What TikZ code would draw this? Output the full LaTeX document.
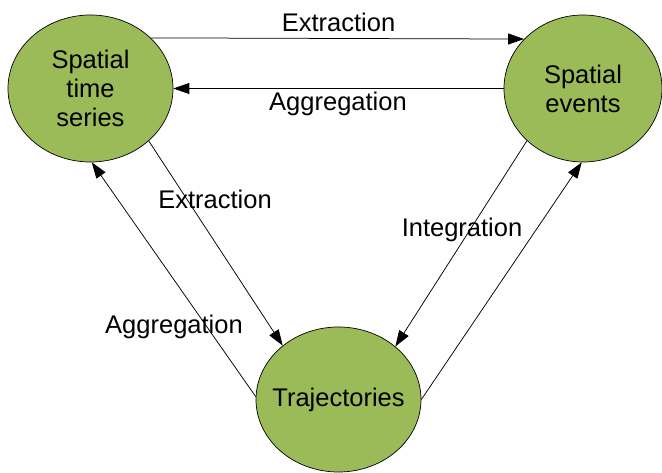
\documentclass[tikz,border=0pt]{standalone}
\usepackage{fontspec}
\setmainfont{Liberation Sans}
\usetikzlibrary{shapes.geometric,arrows.meta}
\definecolor{blobgreen}{RGB}{155,187,89}
\tikzset{
  blob/.style={ellipse, draw=black, line width=0.7pt, fill=blobgreen, inner sep=0pt,
    align=center, font=\fontsize{25.5}{29}\selectfont},
  arr/.style={draw=black, line width=0.75pt, -{Triangle[length=16pt,width=11pt]}},
  lbl/.style={anchor=base, inner sep=0pt, font=\fontsize{25.5}{29}\selectfont}
}
\begin{document}
\begin{tikzpicture}[x=1pt,y=-1pt]
\useasboundingbox (0,0) rectangle (662,473);
\node[blob, minimum width=165pt, minimum height=147pt] (s) at (90.5,88.5) {Spatial\\time\\series};
\node[blob, minimum width=158pt, minimum height=147pt] (e) at (583,88.5) {Spatial\\events};
\node[blob, inner xsep=-12pt, minimum width=165pt, minimum height=145pt] (t) at (338.5,399.5) {Trajectories};

\draw[arr] (s.40) -- (e.140);
\draw[arr] (e.west) -- (s.east);
\draw[arr] (s.-42) -- (t.136);
\draw[arr] (t.178) -- (s.-89);
\draw[arr] (e.223) -- (t.43);
\draw[arr] (t.0) -- (e.-91);

\node[lbl] (l1) at (338.5,32) {Extraction};
\node[lbl] (l2) at (338,111) {Aggregation};
\node[lbl] (l3) at (215,209) {Extraction};
\node[lbl] (l4) at (174,334) {Aggregation};
\node[lbl] (l5) at (462,237) {Integration};
\end{tikzpicture}
\end{document}
